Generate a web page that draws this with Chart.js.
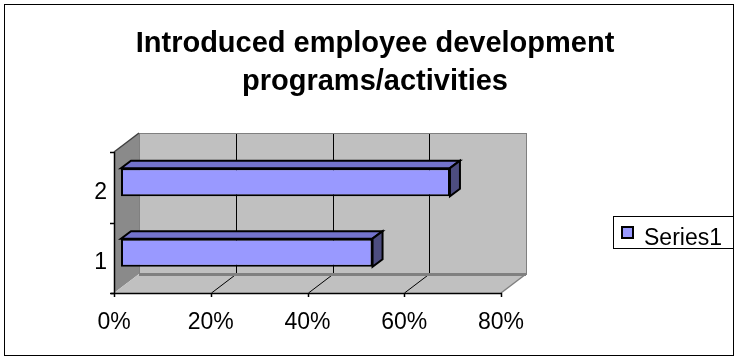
<!DOCTYPE html>
<html>
<head>
<meta charset="utf-8">
<title>Introduced employee development programs/activities</title>
<script src="https://cdn.jsdelivr.net/npm/chart.js@4.4.1/dist/chart.umd.min.js"></script>
<style>
    html, body { margin: 0; padding: 0; background: #fff; }
    #wrap { width: 736px; height: 360px; }
</style>
</head>
<body>
<div id="wrap"><canvas id="graficoBarras" width="736" height="360"></canvas></div>
<script>
// data
const categories = ['1', '2'];
const series1 = [0.52, 0.68];
const seriesName = 'Series1';
const xTickLabels = ['0%', '20%', '40%', '60%', '80%'];
const titleLines = ['Introduced employee development', 'programs/activities'];

const FONT = "'Liberation Sans', Arial, sans-serif";

// 3D look: depth of the walls and of the bars
const WALL = { dx: 25, dy: -19 };
const BAR_SHIFT = { dx: 7, dy: -5 };
const BAR_DEPTH = { dx: 10, dy: -7.5 };

function poly(ctx, pts, fill, stroke, width) {
    ctx.beginPath();
    ctx.moveTo(pts[0][0], pts[0][1]);
    for (let i = 1; i < pts.length; i++)
        ctx.lineTo(pts[i][0], pts[i][1]);
    ctx.closePath();
    if (fill) {
        ctx.fillStyle = fill;
        ctx.fill();
    }
    if (stroke) {
        ctx.strokeStyle = stroke;
        ctx.lineWidth = width || 1;
        ctx.lineJoin = 'miter';
        ctx.stroke();
    }
}

function line(ctx, x1, y1, x2, y2, color, width) {
    ctx.beginPath();
    ctx.moveTo(x1, y1);
    ctx.lineTo(x2, y2);
    ctx.strokeStyle = color;
    ctx.lineWidth = width;
    ctx.stroke();
}

// walls, floor, gridlines and the front axis lines
const frame3d = {
    id: 'frame3d',
    beforeDraw(chart) {
        const {ctx, chartArea: a, scales: {x, y}} = chart;
        const L = a.left, R = a.right, T = a.top, B = a.bottom;
        const dx = WALL.dx, dy = WALL.dy;
        ctx.save();
        ctx.fillStyle = '#fff';
        ctx.fillRect(0, 0, chart.width, chart.height);

        // outer frame
        ctx.strokeStyle = '#000';
        ctx.lineWidth = 1;
        ctx.strokeRect(4.5, 4.5, 729, 351);

        // back wall
        ctx.fillStyle = '#c0c0c0';
        ctx.fillRect(L + dx, T + dy, R - L, B - T);
        // side wall
        poly(ctx, [[L, T], [L + dx, T + dy], [L + dx, B + dy], [L, B]], '#8a8a8a');
        // floor
        poly(ctx, [[L, B], [L + dx, B + dy], [R + dx, B + dy], [R, B]], '#c0c0c0');

        // gridlines on the back wall and the floor
        x.ticks.forEach((t, i) => {
            if (i === 0 || i === x.ticks.length - 1)
                return;
            const px = Math.round(x.getPixelForValue(t.value)) + 0.5;
            line(ctx, px + dx, T + dy, px + dx, B + dy, '#000', 1);
            line(ctx, px, B, px + dx, B + dy, '#000', 1);
        });

        // wall edges
        ctx.strokeStyle = '#808080';
        ctx.lineWidth = 1;
        ctx.strokeRect(L + dx + 0.5, T + dy + 0.5, R - L, B - T);
        line(ctx, L + dx, B + dy + 0.5, R + dx, B + dy + 0.5, '#808080', 3);
        line(ctx, R, B, R + dx, B + dy, '#808080', 1.5);
        line(ctx, L, T, L + dx, T + dy, '#404040', 1.5);

        // front axis lines and tick marks
        line(ctx, L + 0.5, T, L + 0.5, B + 1, '#000', 1.5);
        line(ctx, L - 3, B + 0.5, R + 1, B + 0.5, '#000', 1.5);
        x.ticks.forEach(t => {
            const px = Math.round(x.getPixelForValue(t.value)) + 0.5;
            line(ctx, px, B, px, B + 4, '#000', 1.5);
        });
        const band = (B - T) / categories.length;
        for (let i = 0; i <= categories.length; i++) {
            const py = Math.round(T + band * i) + 0.5;
            line(ctx, L - 4, py, L, py, '#000', 1.5);
        }
        ctx.restore();
    },
    beforeDatasetsDraw(chart) {
        chart.ctx.save();
        chart.ctx.translate(BAR_SHIFT.dx, BAR_SHIFT.dy);
    },
    afterDatasetsDraw(chart) {
        const ctx = chart.ctx;
        const ds = chart.data.datasets[0];
        chart.getDatasetMeta(0).data.forEach(bar => {
            const {x, y, base, height} = bar.getProps(['x', 'y', 'base', 'height'], true);
            const top = y - height / 2, bot = y + height / 2;
            const dx = BAR_DEPTH.dx, dy = BAR_DEPTH.dy;
            poly(ctx, [[base, top], [x, top], [x + dx, top + dy], [base + dx, top + dy]], ds.topColor, '#000', 2);
            poly(ctx, [[x, top], [x + dx, top + dy], [x + dx, bot + dy], [x, bot]], ds.sideColor, '#000', 2);
        });
        ctx.restore();
    },
    afterDraw(chart) {
        const ctx = chart.ctx;
        const ds = chart.data.datasets[0];
        ctx.save();

        // title
        ctx.fillStyle = '#000';
        ctx.font = 'bold 29px ' + FONT;
        ctx.textAlign = 'center';
        ctx.textBaseline = 'alphabetic';
        ctx.fillText(titleLines[0], 375, 52);
        ctx.fillText(titleLines[1], 375, 90);

        // legend
        ctx.strokeStyle = '#000';
        ctx.lineWidth = 1;
        ctx.strokeRect(613.5, 216.5, 120, 32);
        ctx.fillStyle = ds.backgroundColor;
        ctx.fillRect(622, 227, 11, 11);
        ctx.lineWidth = 2;
        ctx.strokeRect(622, 227, 11, 11);
        ctx.fillStyle = '#000';
        ctx.font = '23px ' + FONT;
        ctx.textAlign = 'left';
        ctx.fillText(seriesName, 644, 245);
        ctx.restore();
    }
};

const ctx = document.getElementById('graficoBarras').getContext('2d');
const chartBarras = new Chart(ctx, {
    type: 'bar',
    data: {
        labels: categories,
        datasets: [{
                label: seriesName,
                data: series1,
                backgroundColor: '#9999ff',
                topColor: '#7373cc',
                sideColor: '#4d4d80',
                borderColor: '#000',
                borderWidth: 2,
                borderSkipped: false,
                barPercentage: 0.4,
                categoryPercentage: 1,
                clip: false
            }]
    },
    options: {
        indexAxis: 'y',
        responsive: false,
        devicePixelRatio: 1,
        animation: false,
        layout: {
            padding: { left: 74, right: 235, top: 152, bottom: 17 }
        },
        plugins: {
            legend: { display: false },
            title: { display: false },
            tooltip: { enabled: false }
        },
        scales: {
            x: {
                min: 0,
                max: 0.8,
                border: { display: false },
                grid: { display: false, drawTicks: false },
                ticks: {
                    stepSize: 0.2,
                    padding: 16,
                    color: '#000',
                    font: { family: FONT, size: 23 },
                    maxRotation: 0,
                    callback: (v, i) => xTickLabels[i]
                },
                afterFit: scale => { scale.height = 50; }
            },
            y: {
                reverse: true,
                border: { display: false },
                grid: { display: false, drawTicks: false },
                ticks: {
                    padding: 7,
                    labelOffset: 5,
                    color: '#000',
                    font: { family: FONT, size: 23 }
                },
                afterFit: scale => { scale.width = 40; }
            }
        }
    },
    plugins: [frame3d]
});
</script>
</body>
</html>
